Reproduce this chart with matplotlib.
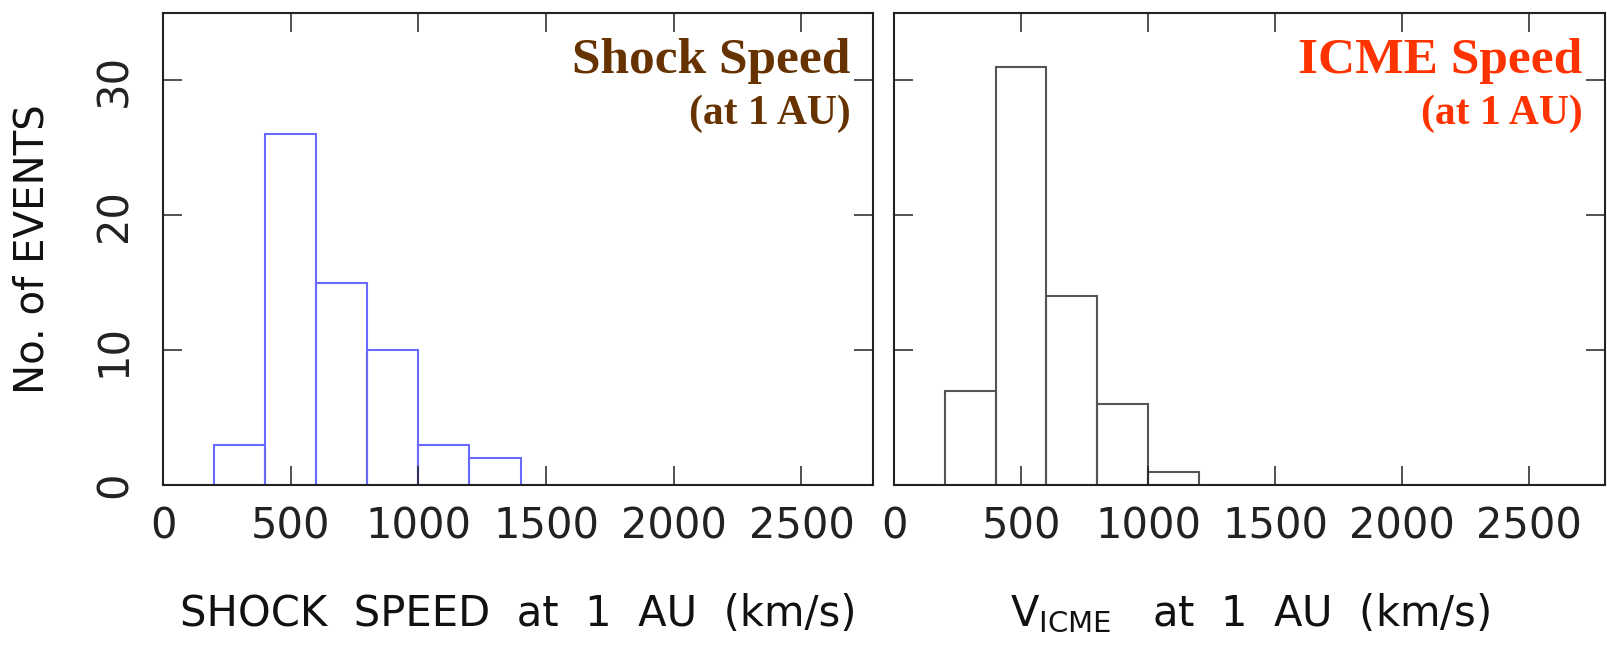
import numpy as np
import matplotlib
matplotlib.use("Agg")
import matplotlib.pyplot as plt

# histogram bins (km/s) and counts
bin_edges = np.arange(0, 2801, 200)
shock_counts = [0, 3, 26, 15, 10, 3, 2, 0, 0, 0, 0, 0, 0, 0]
icme_counts = [0, 7, 31, 14, 6, 1, 0, 0, 0, 0, 0, 0, 0, 0]

x_ticks = [0, 500, 1000, 1500, 2000, 2500]
y_ticks = [0, 10, 20, 30]

plt.rcParams['font.family'] = 'DejaVu Sans'
plt.rcParams['mathtext.fontset'] = 'dejavusans'

fig = plt.figure(figsize=(16.08, 6.47), dpi=100)
ax1 = fig.add_axes([0.1014, 0.2504, 0.4415, 0.7295])
ax2 = fig.add_axes([0.5560, 0.2504, 0.4422, 0.7295])

panels = [
    (ax1, shock_counts, '#6a6aff', 'SHOCK  SPEED  at  1  AU  (km/s)',
     'Shock Speed', '#663300', 2780),
    (ax2, icme_counts, '#555555', r'V$_{\mathrm{ICME}}$   at  1  AU  (km/s)',
     'ICME Speed', '#ff3300', 2800),
]

for ax, counts, col, xlab, title, tcol, xmax in panels:
    ax.bar(bin_edges[:-1], counts, width=200, align='edge', fill=False,
           edgecolor=col, linewidth=1.5)
    ax.set_xlim(0, xmax)
    ax.set_ylim(0, 35)
    ax.set_xticks(x_ticks)
    ax.set_yticks(y_ticks)
    ax.tick_params(direction='in', length=14, width=1.1, top=True, right=True,
                   labelsize=30, colors='#222222')
    ax.tick_params(axis='x', pad=15)
    ax.tick_params(axis='y', pad=20)
    for s in ax.spines.values():
        s.set_linewidth(1.5)
        s.set_color('#222222')
    ax.set_xlabel(xlab, fontsize=30, color='#111111')
    ax.xaxis.set_label_coords(0.5, -0.273)
    ax.xaxis.label.set_va('center')
    ax.text(0.968, 0.873, title, transform=ax.transAxes, ha='right', va='baseline',
            family='Liberation Serif', weight='bold', fontsize=37, color=tcol)
    ax.text(0.968, 0.765, '(at 1 AU)', transform=ax.transAxes, ha='right',
            va='baseline', family='Liberation Serif', weight='bold', fontsize=30,
            color=tcol)

for lab in ax1.get_yticklabels():
    lab.set_rotation(90)
    lab.set_va('center')
ax2.set_yticklabels([])

ax1.set_ylabel('No. of EVENTS', fontsize=29, color='#111111')
ax1.yaxis.set_label_coords(-0.1845, 0.5)
ax1.yaxis.label.set_va('center')

fig.savefig('out.png', dpi=100)
